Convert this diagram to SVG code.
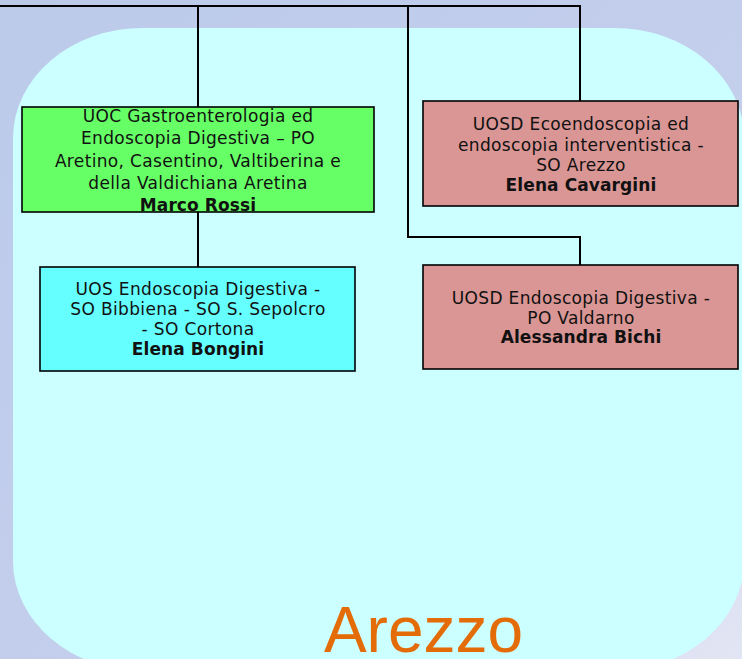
<svg xmlns="http://www.w3.org/2000/svg" width="742" height="659" viewBox="0 0 742 659">
<style>
.box{stroke:#000;stroke-width:1.6}
.t{font-family:"DejaVu Sans",Verdana,sans-serif;font-size:17px;letter-spacing:0.35px;fill:#111;text-anchor:middle}
.b{font-weight:bold;letter-spacing:0.1px}
.conn{fill:none;stroke:#000;stroke-width:2}
</style>
<defs>
<linearGradient id="bg" x1="0" y1="0" x2="1" y2="1">
<stop offset="0" stop-color="#bccaea"/>
<stop offset="0.6" stop-color="#c4cfec"/>
<stop offset="1" stop-color="#e2e5f3"/>
</linearGradient>
</defs>
<rect width="742" height="659" fill="url(#bg)"/>
<rect x="13" y="28" width="731" height="643" rx="130" ry="110" fill="#ccffff"/>
<g id="connectors">
<path class="conn" d="M0 6 H580 V101"/>
<path class="conn" d="M198 6 V107"/>
<path class="conn" d="M408 6 V237 H580 V265"/>
<path class="conn" d="M198 212 V267"/>
</g>
<g id="uoc">
<rect class="box" x="22" y="107" width="352" height="105" fill="#66ff66"/>
<text class="t" x="198" y="122">UOC Gastroenterologia ed</text>
<text class="t" x="198" y="144">Endoscopia Digestiva – PO</text>
<text class="t" x="198" y="166.5">Aretino, Casentino, Valtiberina e</text>
<text class="t" x="198" y="189">della Valdichiana Aretina</text>
<text class="t b" x="198" y="211">Marco Rossi</text>
</g>
<g id="uos">
<rect class="box" x="40" y="267" width="315" height="104" fill="#66ffff"/>
<text class="t" x="198" y="295">UOS Endoscopia Digestiva -</text>
<text class="t" x="198" y="315">SO Bibbiena - SO S. Sepolcro</text>
<text class="t" x="198" y="335">- SO Cortona</text>
<text class="t b" x="198" y="355">Elena Bongini</text>
</g>
<g id="uosd1">
<rect class="box" x="423" y="101" width="315" height="105" fill="#d99694"/>
<text class="t" x="581" y="130">UOSD Ecoendoscopia ed</text>
<text class="t" x="581" y="151">endoscopia interventistica -</text>
<text class="t" x="581" y="171">SO Arezzo</text>
<text class="t b" x="581" y="191">Elena Cavargini</text>
</g>
<g id="uosd2">
<rect class="box" x="423" y="265" width="315" height="104" fill="#d99694"/>
<text class="t" x="581" y="304">UOSD Endoscopia Digestiva -</text>
<text class="t" x="581" y="324">PO Valdarno</text>
<text class="t b" x="581" y="343">Alessandra Bichi</text>
</g>
<text x="423.5" y="652" font-family="Liberation Sans, Arial, sans-serif" font-size="64" fill="#e36c09" text-anchor="middle">Arezzo</text>
</svg>
